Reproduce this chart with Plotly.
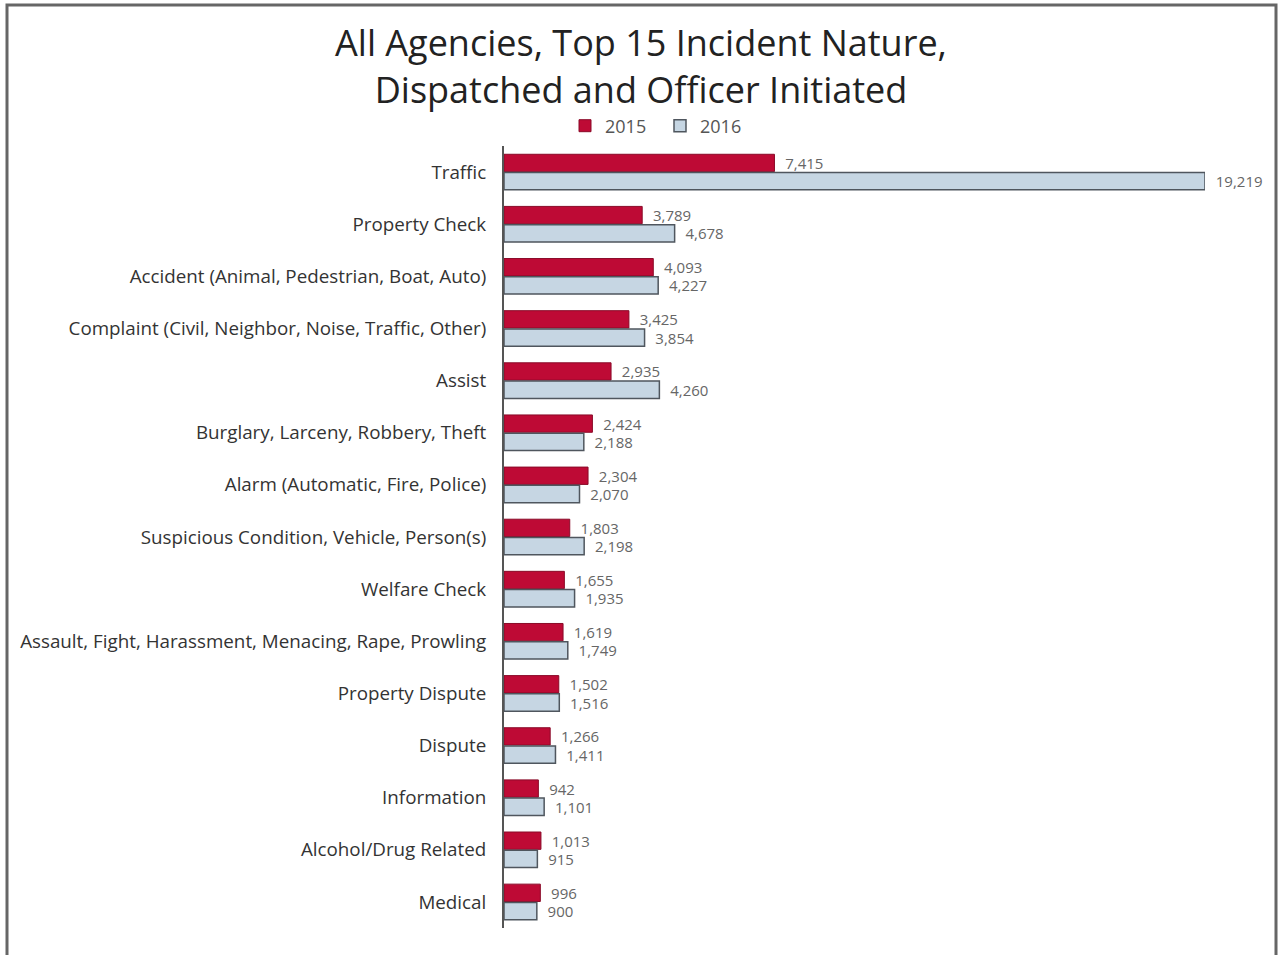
import plotly.graph_objects as go

categories = [
    "Traffic",
    "Property Check",
    "Accident (Animal, Pedestrian, Boat, Auto)",
    "Complaint (Civil, Neighbor, Noise, Traffic, Other)",
    "Assist",
    "Burglary, Larceny, Robbery, Theft",
    "Alarm (Automatic, Fire, Police)",
    "Suspicious Condition, Vehicle, Person(s)",
    "Welfare Check",
    "Assault, Fight, Harassment, Menacing, Rape, Prowling",
    "Property Dispute",
    "Dispute",
    "Information",
    "Alcohol/Drug Related",
    "Medical",
]
values_2015 = [7415, 3789, 4093, 3425, 2935, 2424, 2304, 1803, 1655, 1619, 1502, 1266, 942, 1013, 996]
values_2016 = [19219, 4678, 4227, 3854, 4260, 2188, 2070, 2198, 1935, 1749, 1516, 1411, 1101, 915, 900]
series_names = ["2015", "2016"]

FONT = "'Open Sans', Lato, sans-serif"

fig = go.Figure()
fig.add_trace(go.Bar(
    name=series_names[0], y=categories, x=values_2015, orientation="h",
    marker=dict(color="#BE0A35", line=dict(color="#8a0a28", width=1)),
    text=[f"  {v:,}" for v in values_2015], textposition="outside", constraintext="none",
    textfont=dict(color="#666666", size=15, family=FONT), cliponaxis=False,
))
fig.add_trace(go.Bar(
    name=series_names[1], y=categories, x=values_2016, orientation="h",
    marker=dict(color="#C6D6E3", line=dict(color="#4f565e", width=1.5)),
    text=[f"  {v:,}" for v in values_2016], textposition="outside", constraintext="none",
    textfont=dict(color="#666666", size=15, family=FONT), cliponaxis=False,
))

fig.update_layout(
    width=1279, height=955,
    paper_bgcolor="white", plot_bgcolor="white",
    margin=dict(l=504, r=74, t=146, b=27, autoexpand=False),
    barmode="group", bargap=0.3, bargroupgap=0.05,
    title=dict(
        text="All Agencies, Top 15 Incident Nature,<br>Dispatched and Officer Initiated",
        x=641 / 1279, xref="container", xanchor="center",
        y=1 - 56 / 955, yref="container", yanchor="top",
        font=dict(size=36, color="#222222", family=FONT),
    ),
    legend=dict(
        orientation="h", x=(660 - 504) / 701, xanchor="center", xref="paper",
        y=(928 - 126) / 782, yref="paper", yanchor="middle",
        font=dict(size=18, color="#555555", family=FONT),
        itemwidth=30, tracegroupgap=0, bgcolor="rgba(0,0,0,0)",
        entrywidth=50, entrywidthmode="pixels",
    ),
    showlegend=True,
    font=dict(family=FONT),
)
fig.update_xaxes(range=[0, 19219], visible=False, showgrid=False, automargin=False)
fig.update_yaxes(
    autorange="reversed", showgrid=False, showline=True, linecolor="#555555", linewidth=2,
    ticks="", tickfont=dict(size=18.8, color="#333333", family=FONT), ticklabelstandoff=12,
    automargin=False,
)
fig.add_shape(
    type="rect", xref="paper", yref="paper",
    x0=(7 - 504) / 701, x1=(1276 - 504) / 701,
    y0=-0.05, y1=(928 - 5) / 782,
    line=dict(color="#666666", width=3), fillcolor="rgba(0,0,0,0)", layer="below",
)
fig.write_html(
    "out.html",
    config={"displayModeBar": False},
    post_script="document.body.style.margin='0';",
)
